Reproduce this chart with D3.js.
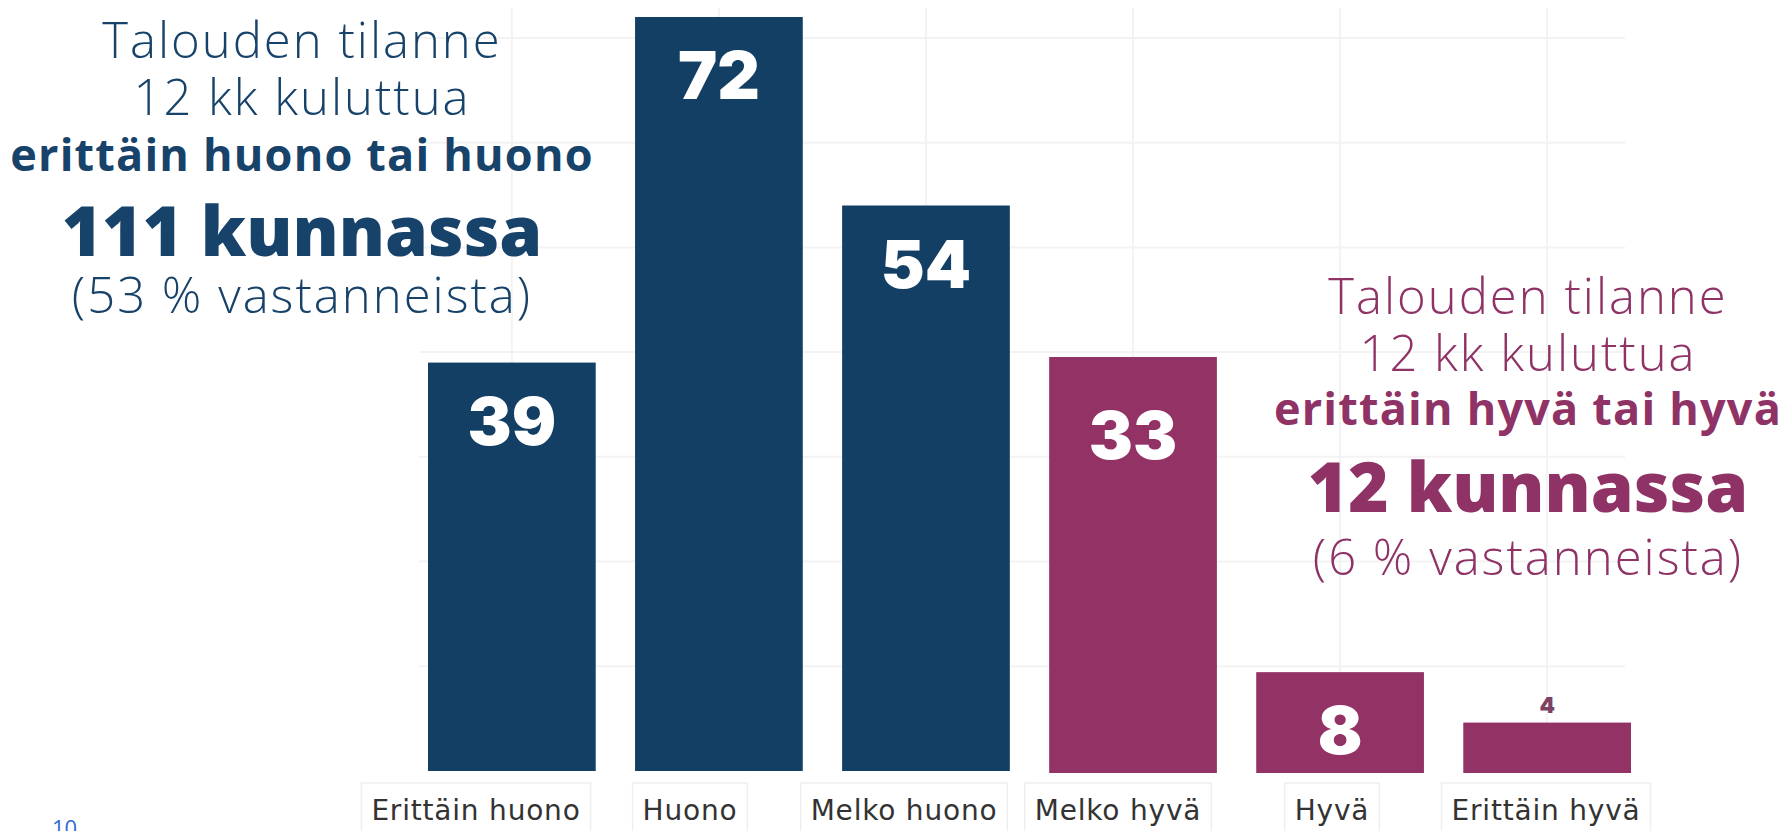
<html>
<head>
<script src="https://d3js.org/d3.v7.min.js"></script>
<style>
  body { margin: 0; background: #fff; }
  svg { display: block; }
</style>
</head>
<body>
<svg width="1785" height="831"></svg>
<script>
    // categories, values and which side of the scale each bar belongs to
    var categories = ["Erittäin huono", "Huono", "Melko huono", "Melko hyvä", "Hyvä", "Erittäin hyvä"];
    var values = [39, 72, 54, 33, 8, 4];
    var sides = ["bad", "bad", "bad", "good", "good", "good"];

    var leftNote = ["Talouden tilanne", "12 kk kuluttua", "erittäin huono tai huono", "111 kunnassa", "(53 % vastanneista)"];
    var rightNote = ["Talouden tilanne", "12 kk kuluttua", "erittäin hyvä tai hyvä", "12 kunnassa", "(6 % vastanneista)"];
    var pageNumber = "10";

    var svg = d3.select("svg");
    var width = +svg.attr("width");
    var height = +svg.attr("height");

    var blue = "#123f63";
    var purple = "#923265";

    svg.append("rect").attr("width", width).attr("height", height).attr("fill", "#fff");

    var x = d3.scaleBand()
        .domain(categories)
        .range([428, 1631])
        .paddingInner(0.19)
        .paddingOuter(0);

    // the axis labels sit a little off the bar centres in the original
    var xLabel = d3.scalePoint().domain(categories).range([476, 1546]);

    // the two halves of the picture come from two screenshots with slightly different scales
    var yBad = d3.scaleLinear().domain([0, 72]).range([771, 17]);
    var yGood = d3.scaleLinear().domain([0, 33]).range([773, 357]);
    function yFor(i) { return sides[i] == "bad" ? yBad : yGood; }

    // faint background grid
    var grid = svg.append("g").attr("stroke", "#f3f3f3").attr("stroke-width", 2);
    grid.selectAll(".h")
        .data(yBad.ticks(7).filter(function(t) { return t > 0; }))
        .enter().append("line")
        .attr("x1", 419).attr("x2", 1625)
        .attr("y1", function(d) { return yBad(d); })
        .attr("y2", function(d) { return yBad(d); });
    grid.selectAll(".v")
        .data(categories)
        .enter().append("line")
        .attr("x1", function(d) { return x(d) + x.bandwidth() / 2; })
        .attr("x2", function(d) { return x(d) + x.bandwidth() / 2; })
        .attr("y1", 8).attr("y2", 771);

    // bars
    svg.append("g").selectAll("rect")
        .data(values)
        .enter().append("rect")
        .attr("x", function(d, i) { return x(categories[i]); })
        .attr("width", x.bandwidth())
        .attr("y", function(d, i) { return yFor(i)(d); })
        .attr("height", function(d, i) { return yFor(i)(0) - yFor(i)(d); })
        .attr("fill", function(d, i) { return sides[i] == "bad" ? blue : purple; });

    // value labels
    svg.append("g").selectAll("text")
        .data(values)
        .enter().append("text")
        .attr("x", function(d, i) { return x(categories[i]) + x.bandwidth() / 2; })
        .attr("y", function(d, i) { return d < 5 ? yFor(i)(d) - 10 : yFor(i)(d) + 82 + (sides[i] == "good" && d > 20 ? 20 : 0); })
        .attr("text-anchor", "middle")
        .attr("font-family", "Inter, 'DejaVu Sans', sans-serif")
        .attr("font-weight", 900)
        .attr("font-size", function(d) { return d < 5 ? 22 : 66; })
        .attr("fill", function(d) { return d < 5 ? "#7d4263" : "#fff"; })
        .text(function(d) { return d; });

    // category labels with faint boxes
    var labels = svg.append("g").selectAll("g")
        .data(categories)
        .enter().append("g");
    labels.append("text")
        .attr("x", function(d) { return xLabel(d); })
        .attr("y", 820)
        .attr("text-anchor", "middle")
        .attr("font-family", "'DejaVu Sans', sans-serif")
        .attr("font-size", 28)
        .attr("letter-spacing", 0.8)
        .attr("fill", "#333")
        .text(function(d) { return d; });
    labels.each(function() {
        var g = d3.select(this);
        var b = g.select("text").node().getBBox();
        g.insert("rect", "text")
            .attr("x", b.x - 10).attr("y", 783)
            .attr("width", b.width + 20).attr("height", 60)
            .attr("fill", "none")
            .attr("stroke", "#efefef")
            .attr("stroke-width", 1.5);
    });

    // side notes
    function note(lines, cx, baselines, colour) {
        var sizes = [49, 49, 45, 69, 49];
        var weights = [300, 300, 700, 800, 300];
        var spacing = [2, 2, 1.2, 0, 2];
        svg.append("g").selectAll("text")
            .data(lines)
            .enter().append("text")
            .attr("x", cx)
            .attr("y", function(d, i) { return baselines[i]; })
            .attr("text-anchor", "middle")
            .attr("font-family", "'Open Sans', sans-serif")
            .attr("font-size", function(d, i) { return sizes[i]; })
            .attr("font-weight", function(d, i) { return weights[i]; })
            .attr("letter-spacing", function(d, i) { return spacing[i]; })
            .attr("fill", colour)
            .text(function(d) { return d; });
    }
    note(leftNote, 302, [58, 115, 171, 256, 313], "#17426a");
    note(rightNote, 1528, [314, 371, 425, 512, 575], "#8f3266");

    svg.append("text")
        .attr("x", 52).attr("y", 836)
        .attr("font-family", "'Open Sans', sans-serif")
        .attr("font-size", 22)
        .attr("fill", "#2d6bd6")
        .text(pageNumber);
</script>
</body>
</html>
